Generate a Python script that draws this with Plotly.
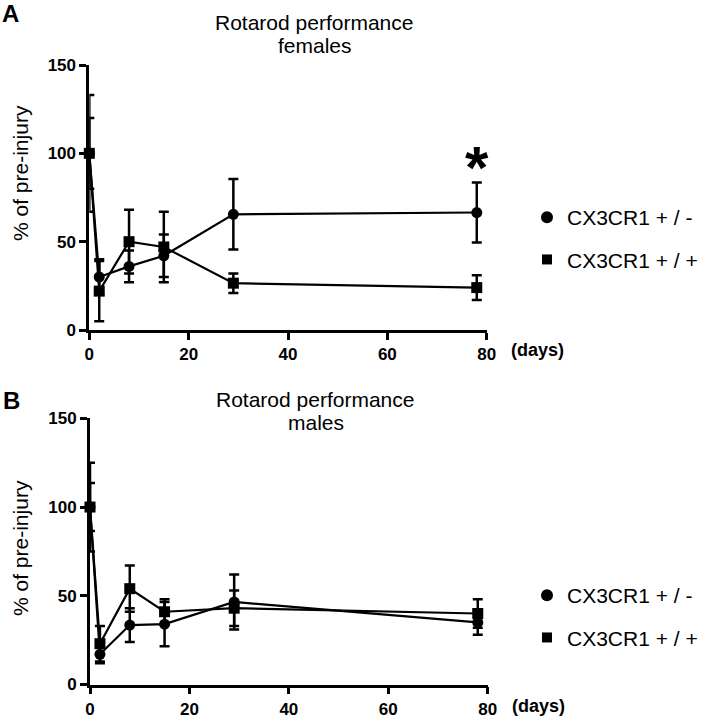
import plotly.graph_objects as go

# ---------------- data ----------------
days = [0, 2, 8, 15, 29, 78]

female_het = [100, 30, 36, 42, 65.5, 66.5]
female_het_err = [33, 10, 9, 12, 20, 17]
female_wt = [100, 22, 50, 47, 26.5, 24]
female_wt_err = [20, 17, 18, 20, 5.5, 7]

male_het = [100, 17, 33.5, 34, 46.5, 35]
male_het_err = [25, 5, 9.5, 12.5, 15.5, 7]
male_wt = [100, 23, 54, 41, 43, 40]
male_wt_err = [13.5, 10, 13, 7, 10, 8]

series_names = ["CX3CR1 + / -", "CX3CR1 + / +"]
x_ticks = [0, 20, 40, 60, 80]
y_ticks = [0, 50, 100, 150]

W, H = 703, 719
FONT = "Liberation Sans, Arial, sans-serif"

fig = go.Figure()


def add_series(x, y, err, symbol, xa, ya):
    fig.add_trace(go.Scatter(
        x=x, y=y, mode="lines+markers",
        error_y=dict(type="data", array=err, visible=True, color="black",
                     thickness=2.5, width=5),
        marker=dict(symbol=symbol, size=11, color="black"),
        line=dict(color="black", width=2.2),
        xaxis=xa, yaxis=ya, showlegend=False, cliponaxis=False,
    ))


add_series(days, female_het, female_het_err, "circle", "x", "y")
add_series(days, female_wt, female_wt_err, "square", "x", "y")
add_series(days, male_het, male_het_err, "circle", "x2", "y2")
add_series(days, male_wt, male_wt_err, "square", "x2", "y2")

# legend entries
for leg in ["legend", "legend2"]:
    for i, (nm, sym, sz) in enumerate(zip(series_names, ["circle", "square"], [12, 10])):
        fig.add_trace(go.Scatter(
            x=[None], y=[None], mode="markers", name=nm,
            marker=dict(symbol=sym, size=sz, color="black"),
            legend=leg, legendgroup=leg + str(i), showlegend=True,
            xaxis="x" if leg == "legend" else "x2",
            yaxis="y" if leg == "legend" else "y2",
        ))

axis_common = dict(
    showline=True, linecolor="black", linewidth=2.8,
    ticks="outside", ticklen=7, tickwidth=2.8, tickcolor="black",
    showgrid=False, zeroline=False, automargin=False,
    tickfont=dict(family=FONT, size=17, color="black", weight="bold"),
)


def px_x(p):
    return p / W


def px_y(p):
    return 1 - p / H


fig.update_layout(
    template="none",
    width=W, height=H,
    margin=dict(l=0, r=0, t=0, b=0, autoexpand=False),
    paper_bgcolor="white", plot_bgcolor="white",
    xaxis=dict(domain=[px_x(89.3), px_x(486.7)], range=[0, 80], tickvals=x_ticks,
               anchor="y", **axis_common),
    yaxis=dict(domain=[px_y(330), px_y(65)], range=[0, 150], tickvals=y_ticks,
               anchor="x", **axis_common),
    xaxis2=dict(domain=[px_x(90), px_x(487.7)], range=[0, 80], tickvals=x_ticks,
                anchor="y2", **axis_common),
    yaxis2=dict(domain=[px_y(684.5), px_y(418.3)], range=[0, 150], tickvals=y_ticks,
                anchor="x2", **axis_common),
    legend=dict(x=px_x(527), y=px_y(197), xanchor="left", yanchor="top",
                font=dict(family=FONT, size=21, color="black"),
                bgcolor="rgba(0,0,0,0)", traceorder="grouped", tracegroupgap=12),
    legend2=dict(x=px_x(527), y=px_y(575), xanchor="left", yanchor="top",
                 font=dict(family=FONT, size=21, color="black"),
                 bgcolor="rgba(0,0,0,0)", traceorder="grouped", tracegroupgap=12),
)


def paper_text(text, x, y, size, angle=0):
    return dict(text=text, x=px_x(x), y=px_y(y), xref="paper", yref="paper",
                xanchor="center", yanchor="middle", showarrow=False, textangle=angle,
                font=dict(family=FONT, size=size, color="black"))


ann = [
    paper_text("<b>A</b>", 10, 14, 24),
    paper_text("<b>B</b>", 11, 400, 24),
    paper_text("Rotarod performance", 314, 22, 21),
    paper_text("females", 315, 45, 21),
    paper_text("Rotarod performance", 315, 399, 21),
    paper_text("males", 316, 422, 21),
    paper_text("% of pre-injury", 20, 173, 21, -90),
    paper_text("% of pre-injury", 20, 548, 21, -90),
    paper_text("<b>(days)</b>", 537, 350, 18),
    paper_text("<b>(days)</b>", 538, 706, 18),
    # significance asterisk
    dict(text="<b>*</b>", x=days[-1], y=92, xref="x", yref="y", showarrow=False,
         xanchor="center", yanchor="middle",
         font=dict(family=FONT, size=60, color="black")),
]

fig.update_layout(annotations=ann)
fig.write_html("out.html", config={"displayModeBar": False},
               post_script="document.body.style.margin='0px';")
